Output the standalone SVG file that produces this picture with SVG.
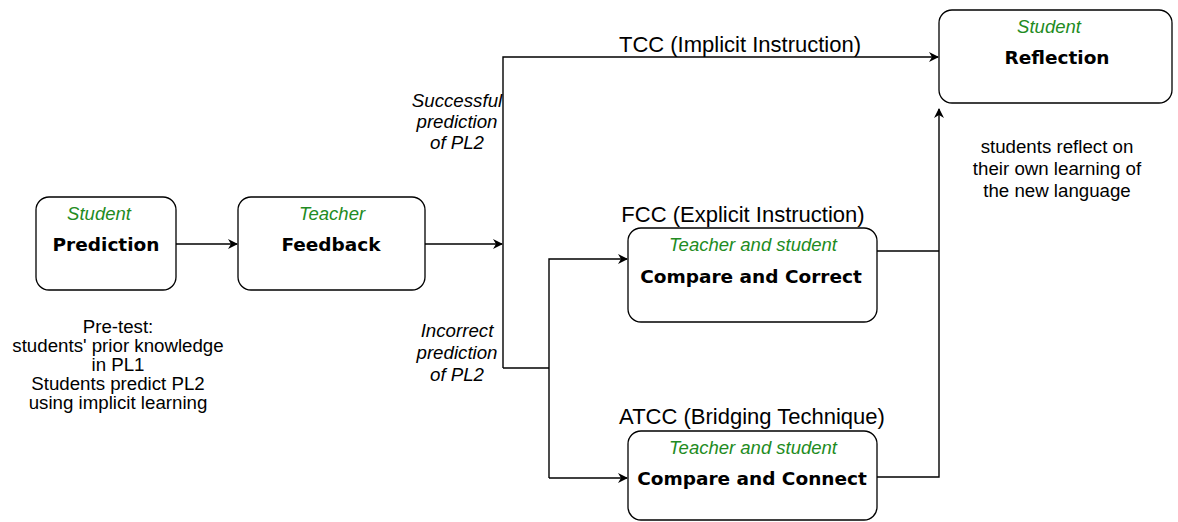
<svg xmlns="http://www.w3.org/2000/svg" width="1178" height="522" viewBox="0 0 1178 522">
<style>
.box{fill:#fff;stroke:#000;stroke-width:1.3}
.role{font-family:"Liberation Sans",Arial,sans-serif;font-style:italic;font-size:18.5px;fill:#228B22;text-anchor:middle}
.title{font-family:"Comic Sans MS","DejaVu Sans",sans-serif;font-weight:bold;font-size:18.5px;fill:#000;text-anchor:middle}
.lbl{font-family:"Liberation Sans",Arial,sans-serif;font-size:18.7px;fill:#000;text-anchor:middle}
.big{font-family:"Liberation Sans",Arial,sans-serif;font-size:22px;fill:#000;text-anchor:middle}
.it{font-family:"Liberation Sans",Arial,sans-serif;font-style:italic;font-size:18.7px;fill:#000;text-anchor:middle}
.ln{fill:none;stroke:#000;stroke-width:1.4}
</style>
<defs>
<marker id="ah" viewBox="0 0 10 10" refX="9" refY="5" markerWidth="10" markerHeight="10" markerUnits="userSpaceOnUse" orient="auto">
<path d="M0,0 L10,5 L0,10 L3,5 Z" fill="#000"/>
</marker>
</defs>
<rect width="1178" height="522" fill="#fff"/>
<g id="connectors">
<path class="ln" d="M176,244 H237" marker-end="url(#ah)"/>
<path class="ln" d="M425,244 H502" marker-end="url(#ah)"/>
<path class="ln" d="M503,368 V57 H938" marker-end="url(#ah)"/>
<path class="ln" d="M503,368 H549"/>
<path class="ln" d="M549,478 V259 H627" marker-end="url(#ah)"/>
<path class="ln" d="M549,478 H627" marker-end="url(#ah)"/>
<path class="ln" d="M877,251 H939"/>
<path class="ln" d="M877,477 H939 V109" marker-end="url(#ah)"/>
</g>
<g id="prediction">
<rect class="box" x="36" y="197" width="140" height="93" rx="13"/>
<text class="role" x="99" y="220">Student</text>
<text class="title" x="106" y="251">Prediction</text>
</g>
<g id="feedback">
<rect class="box" x="238" y="197" width="187" height="93" rx="13"/>
<text class="role" x="332" y="220">Teacher</text>
<text class="title" x="331" y="251">Feedback</text>
</g>
<g id="fcc">
<rect class="box" x="628" y="228" width="249" height="94" rx="13"/>
<text class="role" x="753" y="251">Teacher and student</text>
<text class="title" x="751" y="283">Compare and Correct</text>
</g>
<g id="atcc">
<rect class="box" x="628" y="431" width="249" height="89" rx="13"/>
<text class="role" x="753" y="454">Teacher and student</text>
<text class="title" x="752" y="485">Compare and Connect</text>
</g>
<g id="reflection">
<rect class="box" x="939" y="10" width="233" height="93" rx="13"/>
<text class="role" x="1049" y="33">Student</text>
<text class="title" x="1057" y="64">Reflection</text>
</g>
<g id="labels">
<text class="lbl" x="118" y="333">Pre-test:</text>
<text class="lbl" x="118" y="352">students' prior knowledge</text>
<text class="lbl" x="118" y="371">in PL1</text>
<text class="lbl" x="118" y="390">Students predict PL2</text>
<text class="lbl" x="118" y="409">using implicit learning</text>
<text class="it" x="457" y="107">Successful</text>
<text class="it" x="457" y="128">prediction</text>
<text class="it" x="457" y="149">of PL2</text>
<text class="it" x="457" y="337">Incorrect</text>
<text class="it" x="457" y="359">prediction</text>
<text class="it" x="457" y="381">of PL2</text>
<text class="big" x="740" y="52">TCC (Implicit Instruction)</text>
<text class="big" x="743" y="222">FCC (Explicit Instruction)</text>
<text class="big" x="752" y="424">ATCC (Bridging Technique)</text>
<text class="lbl" x="1057" y="153">students reflect on</text>
<text class="lbl" x="1057" y="175">their own learning of</text>
<text class="lbl" x="1057" y="197">the new language</text>
</g>
</svg>
